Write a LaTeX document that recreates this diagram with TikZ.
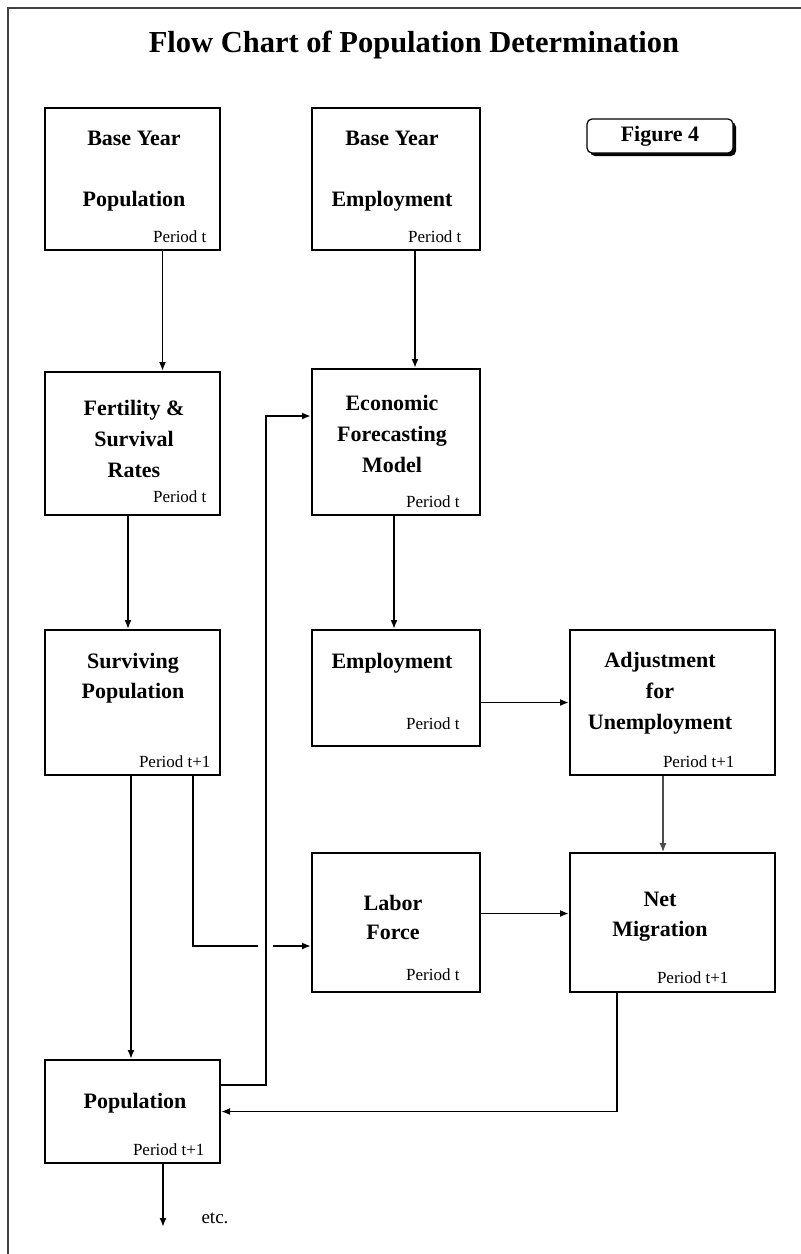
\documentclass[tikz,border=0pt]{standalone}
\usepackage{fontspec}
\setmainfont{Liberation Serif}
\usetikzlibrary{arrows.meta,shadows}

\tikzset{
  box/.style={draw, line width=2pt, minimum width=175pt, minimum height=142pt, inner sep=0pt},
  boxtxt/.style={align=center, font=\fontsize{22}{26}\selectfont\bfseries},
  period/.style={anchor=east, font=\fontsize{17}{20}\selectfont},
  arr/.style={line width=1.8pt, -{Latex[length=9pt,width=7pt]}},
  link/.style={line width=2pt},
}

\begin{document}
\begin{tikzpicture}[x=1pt,y=-1pt]
\useasboundingbox (0,0) rectangle (801,1254);
\draw[line width=1.2pt, black!75] (8,1254) -- (8,8) -- (801,8);
    \node[font=\fontsize{30.5}{34}\selectfont\bfseries] (title) at (414,45) {Flow Chart of Population Determination};
    \node[draw, line width=1.2pt, rounded corners=5pt, fill=white, minimum width=146pt, minimum height=34pt,
      drop shadow={shadow xshift=3pt, shadow yshift=-3pt, fill=black, opacity=1},
      font=\fontsize{22}{24}\selectfont\bfseries] (fig) at (660,136) {Figure 4};

    % boxes
    \node[box] (bpop) at (132.5,179) {};
    \node[box, minimum width=168pt] (bemp) at (396,179) {};
    \node[box, minimum height=143pt] (fert) at (132.5,443.5) {};
    \node[box, minimum width=168pt, minimum height=146pt] (econ) at (396,442) {};
    \node[box, minimum height=145pt] (surv) at (132.5,702.5) {};
    \node[box, minimum width=168pt, minimum height=116pt] (empl) at (396,688) {};
    \node[box, minimum width=205pt, minimum height=145pt] (adj) at (672.5,702.5) {};
    \node[box, minimum width=168pt, minimum height=139pt] (labor) at (396,922.5) {};
    \node[box, minimum width=205pt, minimum height=139pt] (netm) at (672.5,922.5) {};
    \node[box, minimum height=103pt] (pop) at (132.5,1111.5) {};

    \node[boxtxt] (bpoptxt) at (134,171) {Base Year\\[35pt]Population};
    \node[boxtxt] (bemptxt) at (392,171) {Base Year\\[35pt]Employment};
    \node[boxtxt] (ferttxt) at (134,439) {Fertility \&\\[5pt]Survival\\[5pt]Rates};
    \node[boxtxt] (econtxt) at (392,434) {Economic\\[5pt]Forecasting\\[5pt]Model};
    \node[boxtxt] (survtxt) at (133,678) {Surviving\\[4pt]Population};
    \node[boxtxt] (empltxt) at (392,663) {Employment};
    \node[boxtxt] (adjtxt) at (660,693) {Adjustment\\[5pt]for\\[5pt]Unemployment};
    \node[boxtxt] (labortxt) at (393,917) {Labor\\[3pt]Force};
    \node[boxtxt] (netmtxt) at (660,917) {Net\\[4pt]Migration};
    \node[boxtxt] (poptxt) at (135,1103) {Population};

    \node[period] (bpopt) at (210,237) {Period t};
    \node[period] (bempt) at (465,237) {Period t};
    \node[period] (fertt) at (210,497) {Period t};
    \node[period] (econt) at (463,502) {Period t};
    \node[period] (survt) at (214,762) {Period t+1};
    \node[period] (emplt) at (463,724) {Period t};
    \node[period] (adjt) at (738,762) {Period t+1};
    \node[period] (labort) at (463,975) {Period t};
    \node[period] (netmt) at (732,978) {Period t+1};
    \node[period] (popt) at (208,1150) {Period t+1};

    % connectors
    \coordinate (hopa) at (258,946);
    \coordinate (hopb) at (273,946);
    \coordinate (riser) at (266,416);
    \coordinate (next) at (163,1227);

    \draw[arr] ([xshift=30pt]bpop.south) -- ([xshift=30pt]fert.north);
    \draw[arr] ([xshift=19pt]bemp.south) -- ([xshift=19pt]econ.north);
    \draw[arr] ([xshift=-4.5pt]fert.south) -- ([xshift=-4.5pt]surv.north);
    \draw[arr] ([xshift=-2pt]econ.south) -- ([xshift=-2pt]empl.north);
    \draw[arr] (adj.west -| empl.east) -- (adj.west);
    \draw[arr, line width=1.2pt, black!70] ([xshift=-9.5pt]adj.south) -- ([xshift=-9.5pt]netm.north);
    \draw[arr] ([xshift=-1.5pt]surv.south) -- ([xshift=-1.5pt]pop.north);
    \draw[link] ([xshift=60.5pt]surv.south) |- (hopa);
    \draw[arr] (hopb) -- (hopb -| labor.west);
    \draw[arr] ([yshift=9pt]labor.east) -- ([yshift=9pt]netm.west);
    \draw[arr] ([yshift=26.5pt]pop.east) -| (riser) -- (riser -| econ.west);
    \draw[arr] ([xshift=-55.5pt]netm.south) |- (pop.east);
    \draw[arr] (pop.south -| next) -- (next);
    \node[font=\fontsize{19}{22}\selectfont, anchor=west] (etc) at (198,1218) {etc.};
\end{tikzpicture}
\end{document}
